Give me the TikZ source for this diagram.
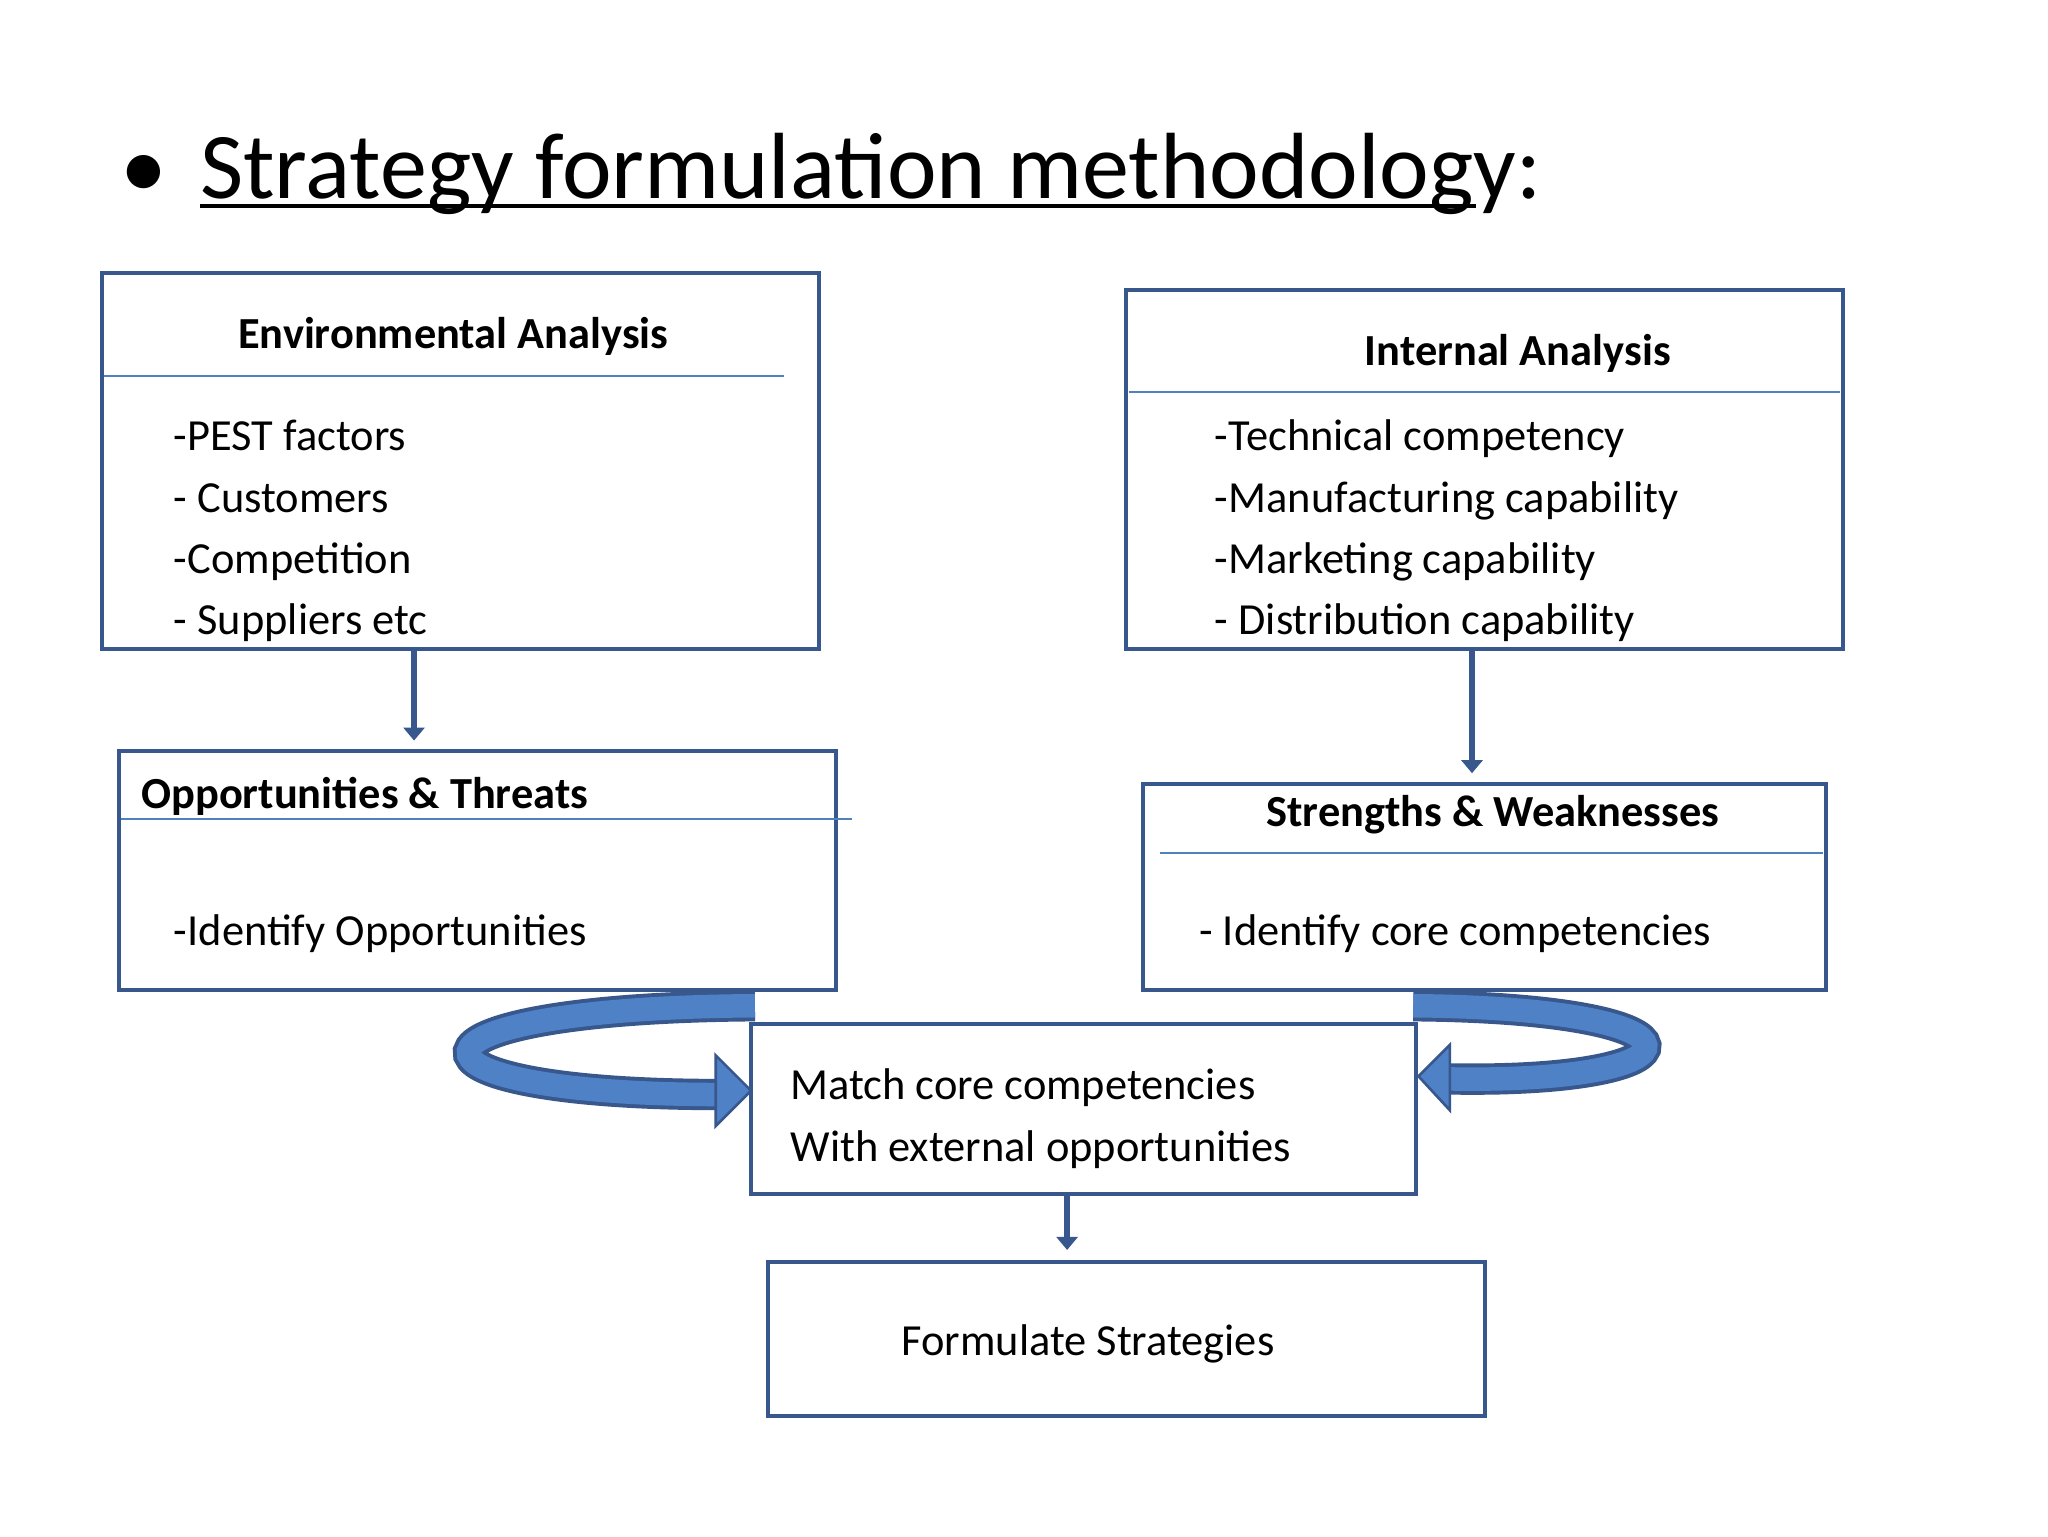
\documentclass[tikz,border=0pt]{standalone}
\usepackage{fontspec}
\setmainfont{Carlito}
\definecolor{bdr}{RGB}{56,87,140}
\definecolor{hl}{RGB}{79,129,189}
\definecolor{ring}{RGB}{79,129,199}
\begin{document}
\begin{tikzpicture}[x=1pt,y=-1pt,
 box/.style={draw=bdr,line width=3pt},
 hdr/.style={draw=hl,line width=1.5pt},
 txt/.style={anchor=base west,inner sep=0pt,font=\fontsize{34}{40}\selectfont},
 btxt/.style={anchor=base,inner sep=0pt,font=\fontsize{34}{40}\selectfont\bfseries},
 darr/.style={draw=bdr,line width=5pt,-{Triangle[length=10pt,width=16pt]}},
 ringline/.style={line width=24pt,draw=bdr},
 ringfill/.style={line width=18pt,draw=ring}]
\usetikzlibrary{arrows.meta}
\fill[white] (0,0) rectangle (1568,1176);
\useasboundingbox (0,0) rectangle (1568,1176);
% title
\node[anchor=base west,inner sep=0pt,font=\fontsize{72}{80}\selectfont] (bul) at (92,152) {•};
\node[anchor=base west,inner sep=0pt,font=\fontsize{72}{80}\selectfont] (title) at (153,152) {Strategy formulation methodology:};
\draw[line width=3pt] (153,158) -- (1130,158);
% Environmental
\draw[box] (78,209) rectangle (627,497);
\coordinate (envb) at (317,497);
\draw[hdr] (80,288) -- (600,288);
\node[btxt] (envt) at (347,267) {Environmental Analysis};
\node[txt] (e1) at (133,345) {-PEST factors};
\node[txt] (e2) at (133,392) {- Customers};
\node[txt] (e3) at (133,439) {-Competition};
\node[txt] (e4) at (133,486) {- Suppliers etc};
% Internal
\draw[box] (862,222) rectangle (1411,497);
\coordinate (intb) at (1127,497);
\draw[hdr] (864,300) -- (1409,300);
\node[btxt] (intt) at (1162,280) {Internal Analysis};
\node[txt] (i1) at (930,345) {-Technical competency};
\node[txt] (i2) at (930,392) {-Manufacturing capability};
\node[txt] (i3) at (930,439) {-Marketing capability};
\node[txt] (i4) at (930,486) {- Distribution capability};
% O&T
\draw[box] (91,575) rectangle (640,758);
\coordinate (ott) at (317,567);
\draw[hdr] (93,627) -- (652,627);
\node[txt,font=\fontsize{34}{40}\selectfont\bfseries] (otn) at (108,619) {Opportunities \& Threats};
\node[txt] (o1) at (133,724) {-Identify Opportunities};
% S&W
\draw[box] (875,600) rectangle (1398,758);
\coordinate (swt) at (1127,592);
\draw[hdr] (888,653) -- (1396,653);
\node[btxt] (swn) at (1143,633) {Strengths \& Weaknesses};
\node[txt] (s1) at (918,724) {- Identify core competencies};
% arrows down
\draw[darr] (envb) -- (ott);
\draw[darr] (intb) -- (swt);
% rings
\draw[ringline] (578,770) .. controls (290,772) and (290,838) .. (552,838);
\draw[ringfill] (578,770) .. controls (290,772) and (290,838) .. (552,838);
\filldraw[fill=ring,draw=bdr,line width=2pt] (548,808) -- (575,835) -- (548,862) -- cycle;
\draw[ringline] (1082,770) .. controls (1320,772) and (1310,830) .. (1108,826);
\draw[ringfill] (1082,770) .. controls (1320,772) and (1310,830) .. (1108,826);
\filldraw[fill=ring,draw=bdr,line width=2pt] (1110,800) -- (1086,824) -- (1110,850) -- cycle;
% Match
\filldraw[box,fill=white] (575,784) rectangle (1084,914);
\coordinate (mb) at (817,914);
\node[txt] (m1) at (605,842) {Match core competencies};
\node[txt] (m2) at (605,889) {With external opportunities};
% Formulate
\draw[box] (588,966) rectangle (1137,1084);
\coordinate (ft) at (817,957);
\node[anchor=base,inner sep=0pt,font=\fontsize{34}{40}\selectfont] (f1) at (833,1038) {Formulate Strategies};
\draw[darr] (mb) -- (ft);
\end{tikzpicture}
\end{document}
